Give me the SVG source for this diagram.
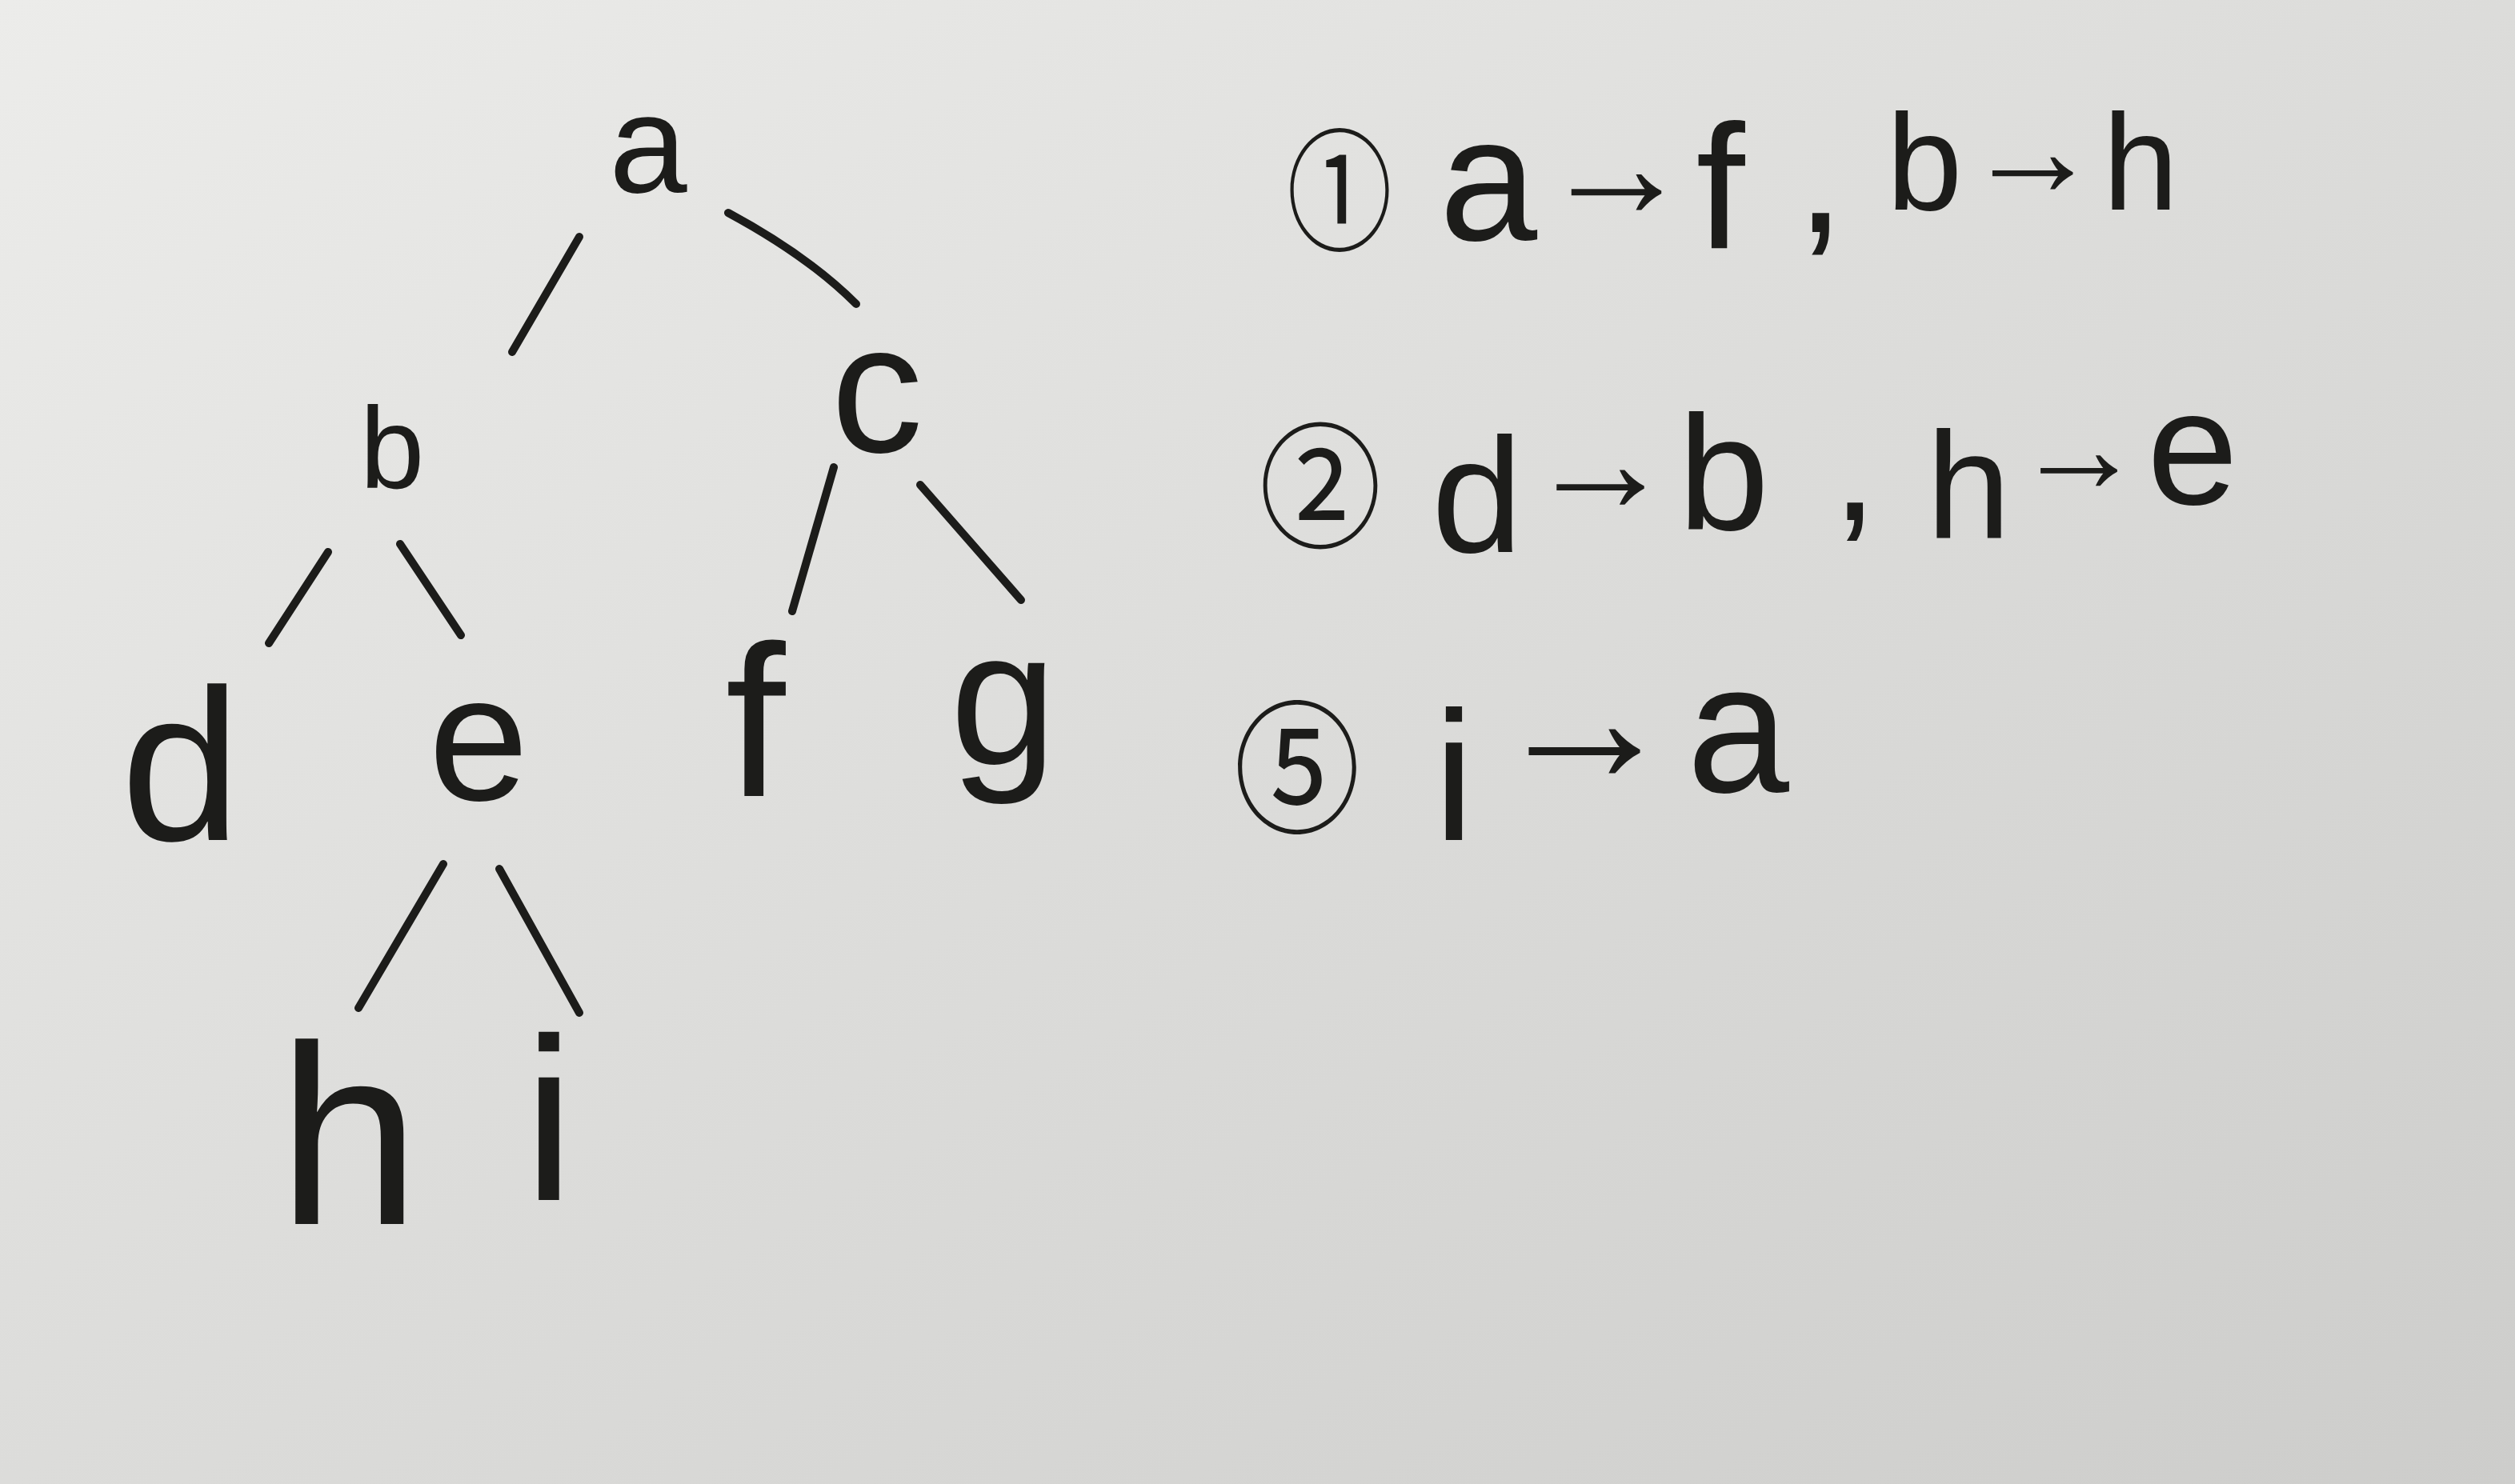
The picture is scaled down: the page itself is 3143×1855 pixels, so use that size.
<svg xmlns="http://www.w3.org/2000/svg" width="3143" height="1855" viewBox="0 0 3143 1855">
<defs>
<linearGradient id="paper" x1="0" y1="0" x2="1" y2="1">
<stop offset="0" stop-color="#ececea"/>
<stop offset="0.5" stop-color="#dcdcda"/>
<stop offset="1" stop-color="#cdcdcb"/>
</linearGradient>
<style>
.n{font-family:"Liberation Sans","DejaVu Sans",sans-serif;fill:#1c1c1a;text-anchor:middle}
.t{font-family:"Liberation Sans","DejaVu Sans",sans-serif;fill:#1c1c1a;text-anchor:middle}
.c{font-family:"Noto Sans CJK SC","DejaVu Sans",sans-serif;fill:#1c1c1a;text-anchor:middle}
.e{stroke:#1c1c1a;stroke-width:10;stroke-linecap:round;fill:none}
</style>
</defs>
<rect width="3143" height="1855" fill="url(#paper)"/>
<g id="connectors">
<path class="e" d="M724 296 L640 440"/>
<path class="e" d="M910 266 Q1010 320 1070 380"/>
<path class="e" d="M410 690 L336 804"/>
<path class="e" d="M500 680 L576 794"/>
<path class="e" d="M1042 584 L990 764"/>
<path class="e" d="M1150 606 L1276 750"/>
<path class="e" d="M554 1080 L448 1260"/>
<path class="e" d="M624 1086 L724 1266"/>
</g>
<g id="node-a"><text class="n" x="810" y="240" font-size="175">a</text></g>
<g id="node-b"><text class="n" x="490" y="610" font-size="145">b</text></g>
<g id="node-c"><text class="n" x="1096" y="565" font-size="230">c</text></g>
<g id="node-d"><text class="n" x="226" y="1050" font-size="270">d</text></g>
<g id="node-e"><text class="n" x="598" y="1000" font-size="225">e</text></g>
<g id="node-f"><text class="n" x="944" y="995" font-size="270">f</text></g>
<g id="node-g"><text class="n" x="1254" y="955" font-size="240">g</text></g>
<g id="node-h"><text class="n" x="436" y="1530" font-size="320">h</text></g>
<g id="node-i"><text class="n" x="686" y="1500" font-size="290">i</text></g>
<g id="notes">
<text class="c" transform="translate(1674 0) scale(0.8 1)" x="0" y="300" font-size="165">①</text>
<text class="t" font-size="220" y="300"><tspan x="1860">a</tspan><tspan x="2020" font-size="190" y="272">→</tspan><tspan x="2150" y="310">f</tspan><tspan x="2275" y="290">,</tspan><tspan x="2405" y="262" font-size="170">b</tspan><tspan x="2540" y="245" font-size="170">→</tspan><tspan x="2675" y="262" font-size="170">h</tspan></text>
<text class="c" transform="translate(1650 0) scale(0.9 1)" x="0" y="672" font-size="170">②</text>
<text class="t" font-size="205"><tspan x="1846" y="690">d</tspan><tspan x="2000" y="640" font-size="185">→</tspan><tspan x="2154" y="662">b</tspan><tspan x="2318" y="650">,</tspan><tspan x="2460" y="672" font-size="190">h</tspan><tspan x="2598" y="615" font-size="162">→</tspan><tspan x="2740" y="630">e</tspan></text>
<text class="c" transform="translate(1621 0) scale(0.88 1)" x="0" y="1027" font-size="180">⑤</text>
<text class="t" font-size="230"><tspan x="1817" y="1050">i</tspan><tspan x="1980" y="978" font-size="235">→</tspan><tspan x="2172" y="990">a</tspan></text>
</g>
</svg>
